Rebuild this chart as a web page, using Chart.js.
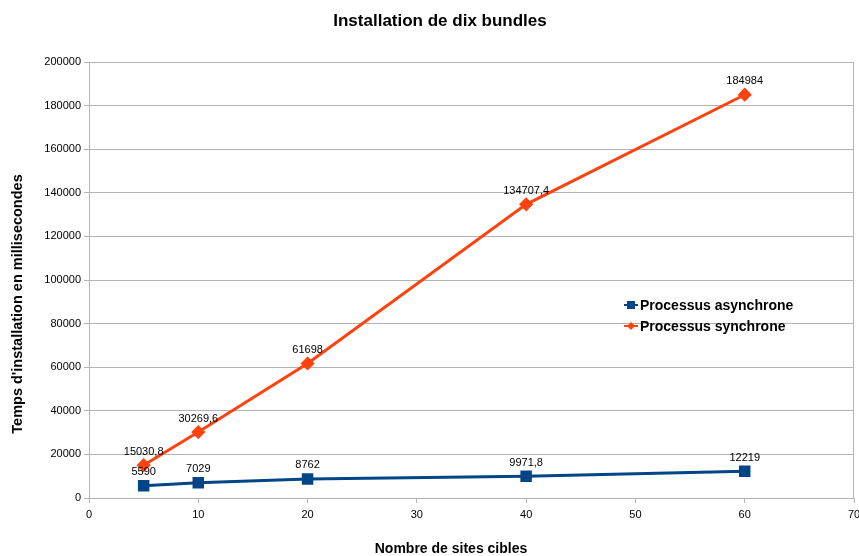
<!DOCTYPE html>
<html>
<head>
<meta charset="utf-8">
<script src="https://cdn.jsdelivr.net/npm/chart.js@4.4.0/dist/chart.umd.min.js"></script>
<style>
  html, body { margin: 0; padding: 0; background: #fff; }
  #wrap { width: 859px; height: 556px; }
</style>
</head>
<body>
<div id="wrap"><canvas id="graphe"></canvas></div>
<script>
// ----- Données -----
const sites = [5, 10, 20, 40, 60];                       // nombre de sites cibles
const asynchrone = [5590, 7029, 8762, 9971.8, 12219];      // ms
const synchrone = [15030.8, 30269.6, 61698, 134707.4, 184984];
const labelsSeries = ['Processus asynchrone', 'Processus synchrone'];
const couleurs = ['#004586', '#ff420e'];

const titre = 'Installation de dix bundles';
const titreX = 'Nombre de sites cibles';
const titreY = "Temps d'installation en millisecondes";

const police = '"Liberation Sans", Arial, sans-serif';

function toPoints(values) {
    return values.map(function (v, i) { return { x: sites[i], y: v }; });
}

// ----- Etiquettes de valeurs au-dessus des points -----
const etiquettes = {
    id: 'etiquettes',
    afterDatasetsDraw: function (chart) {
        const ctx = chart.ctx;
        ctx.save();
        ctx.font = '11px ' + police;
        ctx.fillStyle = '#000';
        ctx.textAlign = 'center';
        ctx.textBaseline = 'bottom';
        chart.data.datasets.forEach(function (ds, i) {
            const meta = chart.getDatasetMeta(i);
            meta.data.forEach(function (pt, j) {
                const txt = String(ds.data[j].y).replace('.', ',');
                ctx.fillText(txt, pt.x, pt.y - 8);
            });
        });
        ctx.restore();
    }
};

// ----- Cadre, titres et légende -----
const decor = {
    id: 'decor',
    beforeDatasetsDraw: function (chart) {
        const a = chart.chartArea;
        const ctx = chart.ctx;
        ctx.save();
        ctx.strokeStyle = '#b3b3b3';
        ctx.lineWidth = 1;
        ctx.strokeRect(a.left + 0.5, a.top + 0.5, a.right - a.left - 1, a.bottom - a.top);
        ctx.restore();
    },
    afterDraw: function (chart) {
        const ctx = chart.ctx;
        ctx.save();
        ctx.fillStyle = '#000';
        ctx.textAlign = 'center';
        ctx.textBaseline = 'middle';

        ctx.font = 'bold 17px ' + police;
        ctx.fillText(titre, 440, 21);

        ctx.font = 'bold 14px ' + police;
        ctx.fillText(titreX, 451, 549);

        ctx.save();
        ctx.translate(18, 304);
        ctx.rotate(-Math.PI / 2);
        ctx.font = 'bold 14.5px ' + police;
        ctx.fillText(titreY, 0, 0);
        ctx.restore();

        // légende
        ctx.textAlign = 'left';
        const lx = 624, ly = [305, 326];
        chart.data.datasets.forEach(function (ds, i) {
            const y = ly[i];
            ctx.strokeStyle = ds.borderColor;
            ctx.fillStyle = ds.borderColor;
            ctx.lineWidth = 2;
            ctx.beginPath();
            ctx.moveTo(lx, y);
            ctx.lineTo(lx + 14, y);
            ctx.stroke();
            ctx.beginPath();
            if (i === 0) {
                ctx.rect(lx + 3, y - 4, 8, 8);
            } else {
                ctx.moveTo(lx + 7, y - 4);
                ctx.lineTo(lx + 11, y);
                ctx.lineTo(lx + 7, y + 4);
                ctx.lineTo(lx + 3, y);
                ctx.closePath();
            }
            ctx.fill();
            ctx.fillStyle = '#000';
            ctx.font = 'bold 14px ' + police;
            ctx.fillText(ds.label, lx + 16, y + 1);
        });
        ctx.restore();
    }
};

new Chart(document.getElementById('graphe'), {
    type: 'line',
    data: {
        datasets: [
            {
                label: labelsSeries[0],
                data: toPoints(asynchrone),
                borderColor: couleurs[0],
                backgroundColor: couleurs[0],
                borderWidth: 3,
                pointStyle: 'rect',
                pointRadius: 6,
                pointHoverRadius: 6
            },
            {
                label: labelsSeries[1],
                data: toPoints(synchrone),
                borderColor: couleurs[1],
                backgroundColor: couleurs[1],
                borderWidth: 3,
                pointStyle: 'rectRot',
                pointRadius: 5,
                pointHoverRadius: 5
            }
        ]
    },
    options: {
        responsive: true,
        maintainAspectRatio: false,
        animation: false,
        layout: {
            autoPadding: false,
            padding: { top: 62, right: 5, left: 0, bottom: 0 }
        },
        plugins: {
            legend: { display: false },
            title: { display: false },
            tooltip: { enabled: false }
        },
        scales: {
            x: {
                type: 'linear',
                min: 0,
                max: 70,
                ticks: {
                    stepSize: 10,
                    color: '#000',
                    padding: 5,
                    font: { family: police, size: 11 }
                },
                grid: {
                    drawOnChartArea: false,
                    drawTicks: true,
                    tickLength: 5,
                    color: '#b3b3b3'
                },
                border: { color: '#b3b3b3' },
                afterFit: function (s) {
                    s.height = 58;
                    s.paddingLeft = 0;
                    s.paddingRight = 0;
                }
            },
            y: {
                min: 0,
                max: 200000,
                ticks: {
                    stepSize: 20000,
                    color: '#000',
                    padding: 3,
                    font: { family: police, size: 11 },
                    callback: function (v) { return String(v); }
                },
                grid: {
                    drawTicks: true,
                    tickLength: 5,
                    color: '#b3b3b3'
                },
                border: { color: '#b3b3b3' },
                afterFit: function (s) { s.width = 89; }
            }
        }
    },
    plugins: [decor, etiquettes]
});
</script>
</body>
</html>
